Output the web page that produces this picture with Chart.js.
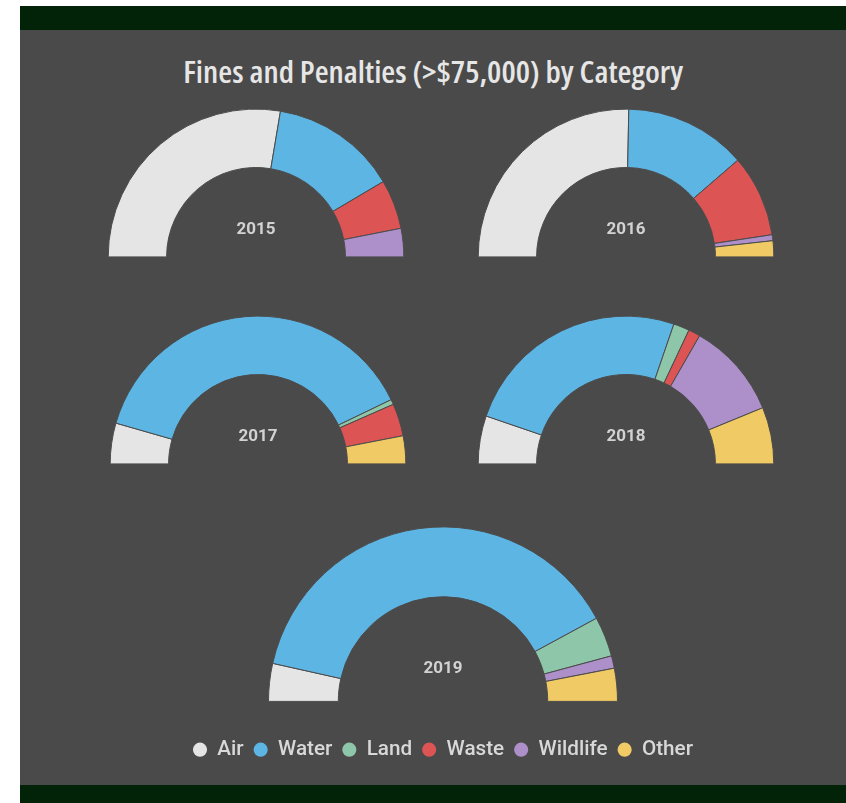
<!DOCTYPE html>
<html>
<head>
<meta charset="utf-8">
<script src="https://cdn.jsdelivr.net/npm/chart.js@4.4.1/dist/chart.umd.min.js"></script>
<style>
  html, body { margin: 0; padding: 0; width: 846px; height: 803px; overflow: hidden; background: #ffffff; }
  #topband { position: absolute; left: 20px; top: 6px; width: 826px; height: 24px; background: #032308; }
  #panel { position: absolute; left: 20px; top: 30px; width: 826px; height: 755px; background: #4a4a4a; }
  #botband { position: absolute; left: 20px; top: 785px; width: 826px; height: 18px; background: #032308; }
  #title { position: absolute; left: 20px; top: 52px; width: 826px; text-align: center; }
  #title span { display: inline-block; white-space: nowrap; transform-origin: 50% 50%;
           font-family: "Open Sans", sans-serif; font-stretch: 75%; font-weight: 600;
           font-size: 31px; line-height: 38px; color: #e6e6e6; }
  canvas { position: absolute; }
</style>
</head>
<body>
<div id="topband"></div>
<div id="panel"></div>
<div id="botband"></div>
<div id="title"><span id="titletext">Fines and Penalties (&gt;$75,000) by Category</span></div>
<canvas id="c2015" style="left:106px; top:108px; width:300px; height:150px;"></canvas>
<canvas id="c2016" style="left:476px; top:108px; width:300px; height:150px;"></canvas>
<canvas id="c2017" style="left:108px; top:315px; width:300px; height:150px;"></canvas>
<canvas id="c2018" style="left:476px; top:315px; width:300px; height:150px;"></canvas>
<canvas id="c2019" style="left:40px; top:499px; width:806px; height:271px;"></canvas>
<script>
const categories = ['Air', 'Water', 'Land', 'Waste', 'Wildlife', 'Other'];
const years = ['2015', '2016', '2017', '2018', '2019'];
const values2015 = [55.3, 27.7, 0, 10.8, 6.2, 0];
const values2016 = [50.6, 26.7, 0, 17.9, 1.3, 3.5];
const values2017 = [8.9, 76.8, 1.1, 7.1, 0, 6.1];
const values2018 = [10.5, 50.0, 3.5, 2.6, 21.0, 12.4];
const values2019 = [7.0, 77.2, 7.4, 0, 2.3, 6.1];
const colors = ['#e5e5e5', '#5db5e4', '#8dc6a9', '#dc5454', '#ad8fc9', '#efca65'];

const yearValues = [values2015, values2016, values2017, values2018, values2019];

// fit the condensed title to the reference width
(function () {
  const t = document.getElementById('titletext');
  const w = t.getBoundingClientRect().width;
  if (w > 0) t.style.transform = 'scaleX(' + (500 / w) + ')';
})();

const centerLabel = {
  id: 'centerLabel',
  afterDatasetsDraw(chart, args, opts) {
    const arc = chart.getDatasetMeta(0).data[0];
    if (!arc) return;
    const ctx = chart.ctx;
    ctx.save();
    ctx.font = 'bold 17px Roboto';
    ctx.fillStyle = '#d2d2d2';
    ctx.textAlign = 'center';
    ctx.textBaseline = 'middle';
    ctx.fillText(opts.text, arc.x, arc.y - arc.outerRadius * 0.185);
    ctx.restore();
  }
};

years.forEach((yr, i) => {
  const isLast = i === years.length - 1;
  new Chart(document.getElementById('c' + yr), {
    type: 'doughnut',
    data: {
      labels: categories,
      datasets: [{
        data: yearValues[i],
        backgroundColor: colors,
        borderColor: '#4c4c4c',
        borderWidth: 1
      }]
    },
    options: {
      responsive: false,
      animation: false,
      rotation: -90,
      circumference: 180,
      radius: isLast ? 174.5 : 147.8,
      cutout: isLast ? '60%' : '60.5%',
      layout: { padding: 0 },
      plugins: {
        tooltip: { enabled: false },
        centerLabel: { text: yr },
        legend: {
          display: isLast,
          position: 'bottom',
          labels: {
            usePointStyle: true,
            pointStyle: 'circle',
            boxWidth: 14,
            boxHeight: 10,
            padding: 10,
            color: '#d8d8d8',
            font: { family: 'Roboto', size: 20.7, weight: '500' },
            generateLabels(chart) {
              const items = Chart.overrides.doughnut.plugins.legend.labels.generateLabels(chart);
              return items.map(it => Object.assign(it, { strokeStyle: it.fillStyle, lineWidth: 0 }));
            }
          },
          onClick: null
        }
      }
    },
    plugins: [centerLabel]
  });
});
</script>
</body>
</html>
